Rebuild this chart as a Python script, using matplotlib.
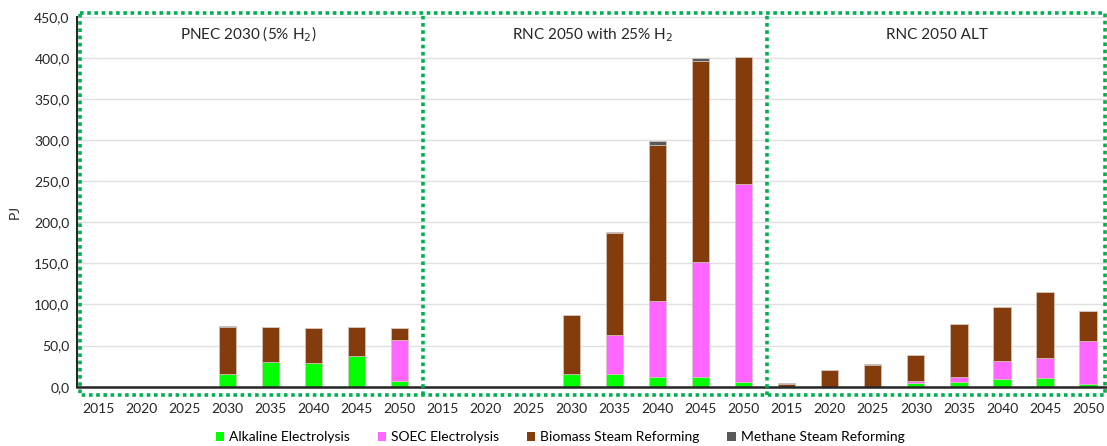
import matplotlib
matplotlib.use("Agg")
import matplotlib.pyplot as plt
from matplotlib.patches import Patch
import numpy as np

plt.rcParams['font.family'] = ['Lato', 'DejaVu Sans']

years = ["2015", "2020", "2025", "2030", "2035", "2040", "2045", "2050"]
scenarios = ["PNEC 2030 (5% H$_2$)", "RNC 2050 with 25% H$_2$", "RNC 2050 ALT"]

# PJ by technology, per scenario (2015..2050)
alkaline_pnec = [0, 0, 0, 15.1, 30.4, 29.2, 37.3, 7.0]
soec_pnec = [0, 0, 0, 0, 0, 0, 0, 49.8]
biomass_pnec = [0, 0, 0, 57.9, 41.9, 41.8, 35.0, 14.6]
methane_pnec = [0, 0, 0, 0.8, 0.3, 0.3, 0.3, 0.2]

alkaline_rnc = [0, 0, 0, 15.8, 15.8, 11.8, 12.2, 5.7]
soec_rnc = [0, 0, 0, 0, 47.1, 92.5, 139.5, 240.5]
biomass_rnc = [0, 0, 0, 71.4, 124.4, 189.7, 244.5, 154.9]
methane_rnc = [0, 0, 0, 0.3, 0.4, 5.3, 3.8, 0.3]

alkaline_alt = [0, 0, 0, 4.1, 5.3, 9.4, 10.6, 3.3]
soec_alt = [0, 0, 0, 3.2, 6.9, 21.9, 24.7, 52.3]
biomass_alt = [3.0, 20.3, 26.7, 30.9, 63.7, 65.7, 80.3, 36.5]
methane_alt = [1.1, 0.0, 0.5, 0.3, 0.3, 0.3, 0.0, 0.0]

series_names = ["Alkaline Electrolysis", "SOEC Electrolysis",
                "Biomass Steam Reforming", "Methane Steam Reforming"]
colors = ["#00FF00", "#FF66FF", "#843C0C", "#595959"]

alkaline = alkaline_pnec + alkaline_rnc + alkaline_alt
soec = soec_pnec + soec_rnc + soec_alt
biomass = biomass_pnec + biomass_rnc + biomass_alt
methane = methane_pnec + methane_rnc + methane_alt
layers = [np.array(alkaline), np.array(soec), np.array(biomass), np.array(methane)]

W, H = 1107, 446
fig = plt.figure(figsize=(W / 100, H / 100), dpi=100)
ax = fig.add_axes([76.5 / W, 59.3 / H, (W - 76.5) / W, 370.0 / H])

n = len(alkaline)
x = np.arange(n)
bottom = np.zeros(n)
for vals, col, name in zip(layers, colors, series_names):
    ax.bar(x, vals, width=0.4, bottom=bottom, color=col, label=name,
           edgecolor="#d9c6bd", linewidth=0.5, zorder=3)
    bottom += vals

ax.set_xlim(-0.5, n - 0.56)
ax.set_ylim(0, 450)
ax.set_yticks(np.arange(0, 451, 50))
ax.set_yticklabels([f"{v:.1f}".replace(".", ",") for v in np.arange(0, 451, 50)],
                   fontsize=10, color="#262626")
ax.set_xticks(x)
ax.set_xticklabels(years * len(scenarios), fontsize=10, color="#262626")
ax.tick_params(axis="both", length=0)
ax.tick_params(axis="x", pad=12)
ax.tick_params(axis="y", pad=5)
ax.grid(axis="y", color="#e0e0e0", linewidth=1.0, zorder=0)
for s in ["top", "right"]:
    ax.spines[s].set_visible(False)
ax.spines["left"].set_color("#262626")
ax.spines["left"].set_linewidth(1.5)
ax.spines["bottom"].set_color("#262626")
ax.spines["bottom"].set_linewidth(1.8)
ax.spines["bottom"].set_zorder(4)
ax.set_ylabel("PJ", fontsize=10, color="#262626")
ax.yaxis.set_label_coords(-0.054, 0.472)

# Scenario titles and dotted group frames
green = "#00B050"
group = len(years)
frame_kw = dict(color=green, linestyle=(0, (1, 1)), linewidth=2.6,
                clip_on=False, zorder=5)
top_y, bot_y = 454.6, -10.1
left_x, right_x = -0.42, n - 0.6
for g, title in enumerate(scenarios):
    center = g * group + (group - 1) / 2
    ax.text(center, 428, title, ha="center", va="center", fontsize=11,
            color="#262626")
for g in range(1, len(scenarios)):
    bx = g * group - 0.45
    ax.plot([bx, bx], [bot_y, top_y], **frame_kw)
ax.plot([left_x, right_x, right_x, left_x, left_x],
        [top_y, top_y, bot_y, bot_y, top_y], **frame_kw)

handles = [Patch(facecolor=c, edgecolor="none") for c in colors]
fig.legend(handles, series_names, loc="center", bbox_to_anchor=(0.506, 0.02),
           ncol=4, frameon=False, fontsize=10, handlelength=0.6,
           handleheight=0.6, handletextpad=0.35, columnspacing=2.0)

fig.savefig("out.png", dpi=100)
